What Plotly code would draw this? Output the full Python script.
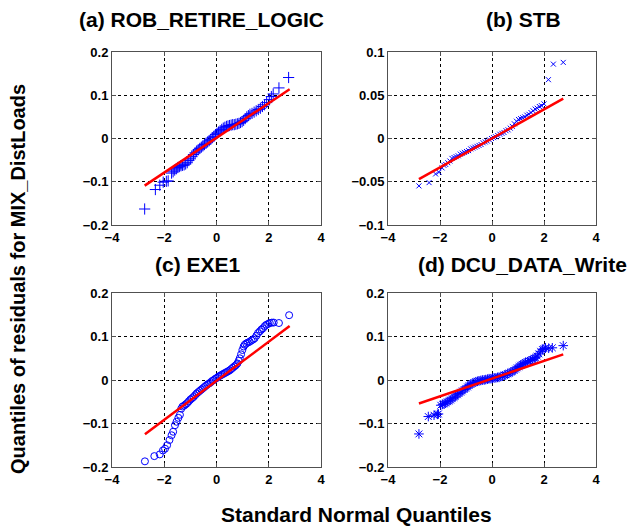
import plotly.graph_objects as go

# ---------------- data ----------------
panel_titles = ["(a) ROB_RETIRE_LOGIC", "(b) STB", "(c) EXE1", "(d) DCU_DATA_Write"]

xa = [-2.75, -2.34, -2.17, -2.04, -1.92, -1.85, -1.72, -1.66, -1.60, -1.54, -1.48, -1.42, -1.36, -1.30,
      -1.24, -1.18, -1.12, -1.06, -1.00, -0.94, -0.88, -0.82, -0.76, -0.70, -0.64, -0.58, -0.52, -0.46,
      -0.40, -0.34, -0.28, -0.22, -0.16, -0.10, -0.04, 0.02, 0.08, 0.14, 0.20, 0.26, 0.32, 0.38, 0.44,
      0.50, 0.56, 0.62, 0.68, 0.74, 0.80, 0.86, 0.92, 0.98, 1.04, 1.10, 1.16, 1.22, 1.28, 1.36, 1.44,
      1.52, 1.60, 1.68, 1.76, 1.84, 1.92, 2.02, 2.10, 2.17, 2.39, 2.76]
ya = [-0.163, -0.118, -0.108, -0.101, -0.099, -0.098, -0.080, -0.077, -0.073, -0.070, -0.067, -0.065,
      -0.063, -0.062, -0.061, -0.059, -0.056, -0.051, -0.047, -0.042, -0.037, -0.033, -0.029, -0.026,
      -0.023, -0.020, -0.017, -0.014, -0.011, -0.008, -0.005, -0.002, 0.002, 0.005, 0.009, 0.012, 0.015,
      0.018, 0.021, 0.024, 0.026, 0.028, 0.029, 0.030, 0.031, 0.032, 0.032, 0.033, 0.034, 0.035, 0.037,
      0.039, 0.042, 0.046, 0.050, 0.053, 0.056, 0.058, 0.061, 0.064, 0.067, 0.070, 0.074, 0.078, 0.083,
      0.090, 0.097, 0.103, 0.117, 0.141]
fit_a_x = [-2.75, 2.80]
fit_a_y = [-0.109, 0.114]

xb = [-2.81, -2.42, -2.17, -2.04, -1.92, -1.85, -1.78, -1.70, -1.62, -1.54, -1.46, -1.38, -1.30, -1.22,
      -1.14, -1.06, -0.98, -0.90, -0.82, -0.74, -0.66, -0.58, -0.50, -0.42, -0.34, -0.26, -0.18, -0.10,
      -0.02, 0.06, 0.14, 0.22, 0.30, 0.38, 0.46, 0.54, 0.62, 0.70, 0.78, 0.86, 0.94, 1.02, 1.10, 1.18,
      1.26, 1.34, 1.42, 1.50, 1.58, 1.66, 1.74, 1.82, 1.90, 2.00, 2.17, 2.36, 2.74]
yb = [-0.0548, -0.051, -0.041, -0.039, -0.034, -0.031, -0.030, -0.028, -0.026, -0.023, -0.022, -0.021,
      -0.020, -0.018, -0.017, -0.016, -0.015, -0.014, -0.012, -0.011, -0.010, -0.009, -0.008, -0.007,
      -0.005, -0.004, -0.003, -0.0015, 0.0, 0.001, 0.002, 0.0035, 0.005, 0.006, 0.007, 0.009, 0.010,
      0.012, 0.014, 0.017, 0.020, 0.022, 0.023, 0.024, 0.025, 0.027, 0.028, 0.030, 0.032, 0.034, 0.035,
      0.037, 0.038, 0.040, 0.068, 0.086, 0.088]
fit_b_x = [-2.81, 2.74]
fit_b_y = [-0.047, 0.046]

xc = [-2.74, -2.38, -2.17, -2.05, -1.97, -1.89, -1.80, -1.72, -1.66, -1.59, -1.53, -1.46, -1.40, -1.35,
      -1.30, -1.24, -1.18, -1.12, -1.06, -1.00, -0.94, -0.88, -0.82, -0.76, -0.70, -0.64, -0.58, -0.52,
      -0.46, -0.40, -0.34, -0.28, -0.22, -0.16, -0.10, -0.04, 0.02, 0.08, 0.14, 0.20, 0.26, 0.32, 0.38,
      0.44, 0.50, 0.56, 0.62, 0.68, 0.74, 0.80, 0.85, 0.89, 0.94, 0.99, 1.04, 1.08, 1.14, 1.20, 1.27,
      1.34, 1.40, 1.46, 1.53, 1.59, 1.66, 1.72, 1.78, 1.85, 1.91, 1.98, 2.04, 2.12, 2.19, 2.39, 2.78]
yc = [-0.187, -0.175, -0.171, -0.162, -0.158, -0.150, -0.138, -0.127, -0.119, -0.104, -0.096, -0.087,
      -0.080, -0.066, -0.061, -0.059, -0.056, -0.053, -0.049, -0.045, -0.042, -0.039, -0.035, -0.031,
      -0.028, -0.025, -0.022, -0.019, -0.016, -0.013, -0.010, -0.008, -0.005, -0.002, 0.000, 0.003,
      0.005, 0.008, 0.010, 0.012, 0.014, 0.016, 0.018, 0.020, 0.022, 0.025, 0.028, 0.031, 0.034, 0.038,
      0.044, 0.050, 0.059, 0.069, 0.077, 0.081, 0.084, 0.086, 0.088, 0.091, 0.093, 0.096, 0.102, 0.108,
      0.112, 0.116, 0.119, 0.124, 0.127, 0.129, 0.131, 0.132, 0.132, 0.131, 0.149]
fit_c_x = [-2.74, 2.80]
fit_c_y = [-0.125, 0.124]

xd = [-2.81, -2.45, -2.23, -2.10, -2.06, -1.97, -1.90, -1.84, -1.78, -1.72, -1.65, -1.59, -1.53, -1.46,
      -1.40, -1.33, -1.27, -1.20, -1.14, -1.07, -1.01, -0.94, -0.88, -0.82, -0.76, -0.69, -0.62, -0.56,
      -0.50, -0.43, -0.37, -0.30, -0.24, -0.17, -0.11, -0.04, 0.02, 0.08, 0.15, 0.21, 0.27, 0.34, 0.40,
      0.47, 0.53, 0.60, 0.66, 0.72, 0.78, 0.85, 0.91, 0.97, 1.04, 1.10, 1.16, 1.23, 1.29, 1.36, 1.42,
      1.48, 1.55, 1.62, 1.68, 1.74, 1.80, 1.87, 1.94, 2.00, 2.06, 2.18, 2.32, 2.74]
yd = [-0.124, -0.084, -0.081, -0.079, -0.078, -0.058, -0.056, -0.055, -0.053, -0.050, -0.048, -0.046,
      -0.043, -0.040, -0.037, -0.034, -0.031, -0.028, -0.025, -0.022, -0.019, -0.016, -0.013, -0.010,
      -0.008, -0.006, -0.004, -0.003, -0.002, -0.001, 0.000, 0.000, 0.001, 0.002, 0.003, 0.003, 0.004,
      0.005, 0.005, 0.006, 0.006, 0.008, 0.009, 0.011, 0.012, 0.014, 0.016, 0.018, 0.019, 0.022, 0.025,
      0.028, 0.031, 0.034, 0.036, 0.038, 0.040, 0.042, 0.044, 0.045, 0.047, 0.050, 0.052, 0.055, 0.060,
      0.066, 0.070, 0.072, 0.074, 0.073, 0.074, 0.079]
fit_d_x = [-2.81, 2.74]
fit_d_y = [-0.054, 0.059]

x_tickvals = [-4, -2, 0, 2, 4]
x_ticktext = ["\u22124", "\u22122", "0", "2", "4"]
y_tickvals_02 = [-0.2, -0.1, 0, 0.1, 0.2]
y_ticktext_02 = ["\u22120.2", "\u22120.1", "0", "0.1", "0.2"]
y_tickvals_01 = [-0.1, -0.05, 0, 0.05, 0.1]
y_ticktext_01 = ["\u22120.1", "\u22120.05", "0", "0.05", "0.1"]

# ---------------- figure ----------------
W, H = 633, 526
FONT = "Liberation Sans, Arial, Helvetica, sans-serif"

panels = [
    (xa, ya, fit_a_x, fit_a_y, "cross-thin-open", 8, "x", "y"),
    (xb, yb, fit_b_x, fit_b_y, "x-thin-open", 5, "x2", "y2"),
    (xc, yc, fit_c_x, fit_c_y, "circle-open", 7, "x3", "y3"),
    (xd, yd, fit_d_x, fit_d_y, "asterisk-open", 8, "x4", "y4"),
]

fig = go.Figure()
for px, py, fx, fy, sym, sz, xr, yr in panels:
    fig.add_trace(go.Scatter(
        x=px, y=py, mode="markers", xaxis=xr, yaxis=yr, showlegend=False,
        marker=dict(symbol=sym, size=sz, color="#0000ff", line=dict(width=1, color="#0000ff")),
    ))
    fig.add_trace(go.Scatter(
        x=fx, y=fy, mode="lines", xaxis=xr, yaxis=yr, showlegend=False,
        line=dict(color="#ff0000", width=2.5),
    ))

xdom = [[112 / W, 321 / W], [388 / W, 596 / W]]
ydom = [[1 - 225 / H, 1 - 52 / H], [1 - 467 / H, 1 - 293 / H]]

tickfont = dict(family=FONT, size=13, color="black", weight="bold")
common = dict(
    showline=True, mirror="ticks", linecolor="#505050", linewidth=1,
    ticks="inside", ticklen=4, tickcolor="#505050",
    showgrid=True, gridcolor="#000000", gridwidth=1, griddash="dot",
    zeroline=False, tickfont=tickfont, tickmode="array", automargin=False,
)

layout = dict(
    template="none",
    width=W, height=H, autosize=False,
    margin=dict(l=0, r=0, t=0, b=0, pad=0, autoexpand=False),
    paper_bgcolor="white", plot_bgcolor="white",
    showlegend=False,
)

for i in range(4):
    row, col = divmod(i, 2)
    suffix = "" if i == 0 else str(i + 1)
    yvals, ytext, yrng = (y_tickvals_01, y_ticktext_01, [-0.1, 0.1]) if i == 1 else (y_tickvals_02, y_ticktext_02, [-0.2, 0.2])
    layout["xaxis" + suffix] = dict(
        common, domain=xdom[col], range=[-4, 4], tickvals=x_tickvals, ticktext=x_ticktext,
        anchor="y" + suffix,
    )
    layout["yaxis" + suffix] = dict(
        common, domain=ydom[row], range=yrng, tickvals=yvals, ticktext=ytext,
        anchor="x" + suffix,
    )

fig.update_layout(**layout)

title_pos = [(201, 19), (523, 19), (198, 264), (522, 264)]
for t, (cx, cy) in zip(panel_titles, title_pos):
    fig.add_annotation(
        text=t, x=cx / W, y=1 - cy / H, xref="paper", yref="paper",
        xanchor="center", yanchor="middle", showarrow=False,
        font=dict(family=FONT, size=21, color="black", weight="bold"),
    )

fig.add_annotation(
    text="Standard Normal Quantiles", x=356 / W, y=1 - 514 / H, xref="paper", yref="paper",
    xanchor="center", yanchor="middle", showarrow=False,
    font=dict(family=FONT, size=21, color="black", weight="bold"),
)
fig.add_annotation(
    text="Quantiles of residuals for MIX_DistLoads", x=18 / W, y=1 - 279 / H, xref="paper", yref="paper",
    xanchor="center", yanchor="middle", showarrow=False, textangle=-90,
    font=dict(family=FONT, size=20, color="black", weight="bold"),
)

fig.write_html(
    "out.html",
    config={"displayModeBar": False, "staticPlot": True},
    post_script="document.body.style.margin='0px';document.body.style.overflow='hidden';",
)
